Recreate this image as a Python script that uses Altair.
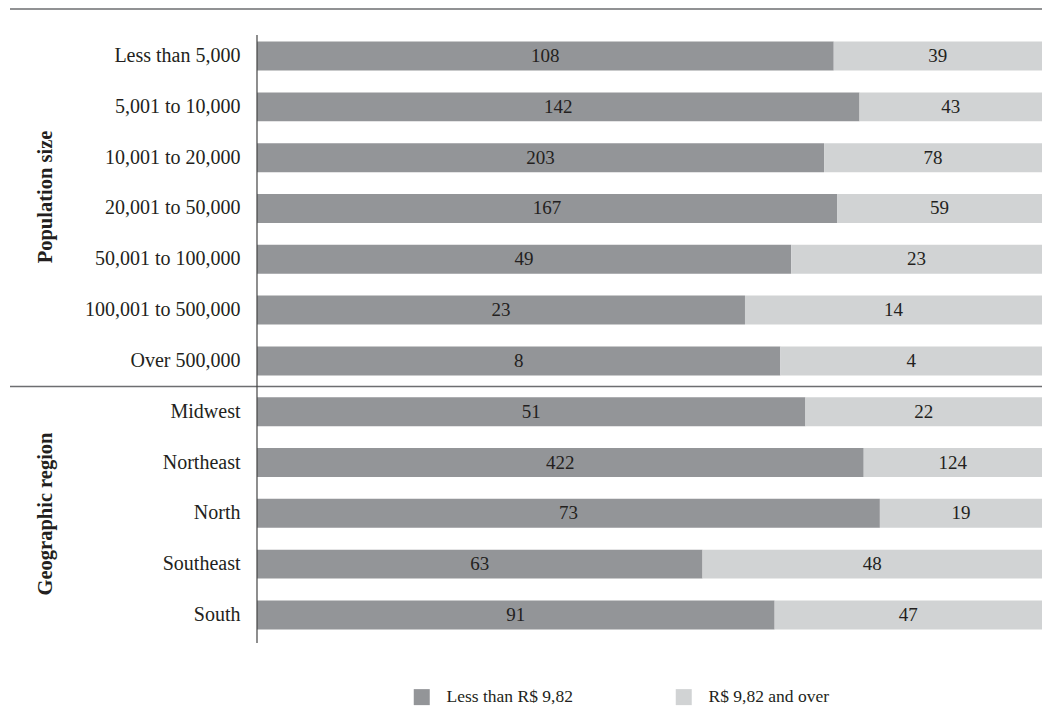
import altair as alt
import pandas as pd

categories = ["Less than 5,000", "5,001 to 10,000", "10,001 to 20,000", "20,001 to 50,000",
              "50,001 to 100,000", "100,001 to 500,000", "Over 500,000",
              "Midwest", "Northeast", "North", "Southeast", "South"]
less_than = [108, 142, 203, 167, 49, 23, 8, 51, 422, 73, 63, 91]
and_over = [39, 43, 78, 59, 23, 14, 4, 22, 124, 19, 48, 47]
series = ["Less than R$ 9,82", "R$ 9,82 and over"]
colors = ["#939598", "#d1d3d4"]

group_names = ["Population size", "Geographic region"]

rows = []
for c, a, b in zip(categories, less_than, and_over):
    rows.append({"category": c, "series": series[0], "value": a, "order": 0})
    rows.append({"category": c, "series": series[1], "value": b, "order": 1})
df = pd.DataFrame(rows)

FONT = "Liberation Serif"
TXT = "#231f20"
W, H = 785, 601

ysc = alt.Scale(domain=categories, paddingInner=0.43, paddingOuter=0.13)
xsc = alt.Scale(domain=[0, 1], nice=False, zero=False)
yaxis = alt.Axis(domain=False, ticks=False, grid=False, labelPadding=17, labelFont=FONT,
                 labelFontSize=20, labelColor=TXT, labelLimit=300)

base = alt.Chart(df).transform_joinaggregate(
    total="sum(value)", groupby=["category"]
).transform_calculate(
    frac="datum.value / datum.total"
).transform_stack(
    stack="frac", groupby=["category"], sort=[alt.SortField("order")], as_=["x0", "x1"]
).transform_calculate(
    mid="(datum.x0 + datum.x1) / 2"
)

bars = base.mark_bar().encode(
    x=alt.X("x0:Q", scale=xsc, axis=None),
    x2="x1:Q",
    y=alt.Y("category:N", scale=ysc, sort=categories, title=None, axis=yaxis),
    color=alt.Color("series:N", scale=alt.Scale(domain=series, range=colors),
                    legend=alt.Legend(title=None, orient="none", direction="horizontal",
                                      legendX=156, legendY=653, symbolType="square",
                                      symbolSize=256, symbolStrokeWidth=0,
                                      labelFont=FONT, labelFontSize=17.5, labelColor=TXT,
                                      labelOffset=16, columnPadding=102)),
)

labels = base.mark_text(font=FONT, fontSize=19, color=TXT, baseline="middle", align="center").encode(
    x=alt.X("mid:Q", scale=xsc, axis=None),
    y=alt.Y("category:N", scale=ysc, sort=categories, title=None, axis=yaxis),
    text="value:Q",
)

gdf = pd.DataFrame({"name": group_names})
pop_text = alt.Chart(gdf).transform_filter(alt.datum.name == group_names[0]).mark_text(
    font=FONT, fontSize=20.5, fontWeight="bold", color=TXT, angle=270,
    align="center", baseline="middle"
).encode(x=alt.value(-211), y=alt.value(162), text="name:N")
geo_text = alt.Chart(gdf).transform_filter(alt.datum.name == group_names[1]).mark_text(
    font=FONT, fontSize=20.5, fontWeight="bold", color=TXT, angle=270,
    align="center", baseline="middle"
).encode(x=alt.value(-211), y=alt.value(479), text="name:N")

line_df = pd.DataFrame({"k": [0]})
top_line = alt.Chart(line_df).mark_rule(color="#6d6e71", strokeWidth=1.5).encode(
    x=alt.value(-247), x2=alt.value(W), y=alt.value(-26))
sep_line = alt.Chart(line_df).mark_rule(color="#6d6e71", strokeWidth=1.5).encode(
    x=alt.value(-247), x2=alt.value(W), y=alt.value(351.5))
axis_line = alt.Chart(line_df).mark_rule(color="#444444", strokeWidth=1.2).encode(
    x=alt.value(0), y=alt.value(0), y2=alt.value(608))

chart = alt.layer(bars, labels, pop_text, geo_text, top_line, sep_line, axis_line).properties(
    width=W, height=H,
    background="white",
    autosize=alt.AutoSizeParams(type="none"),
    padding={"left": 257, "top": 35, "right": 0, "bottom": 70},
).configure_view(stroke=None).configure_axis(grid=False)

chart.save("out.html", embed_options={"renderer": "svg", "actions": False})
